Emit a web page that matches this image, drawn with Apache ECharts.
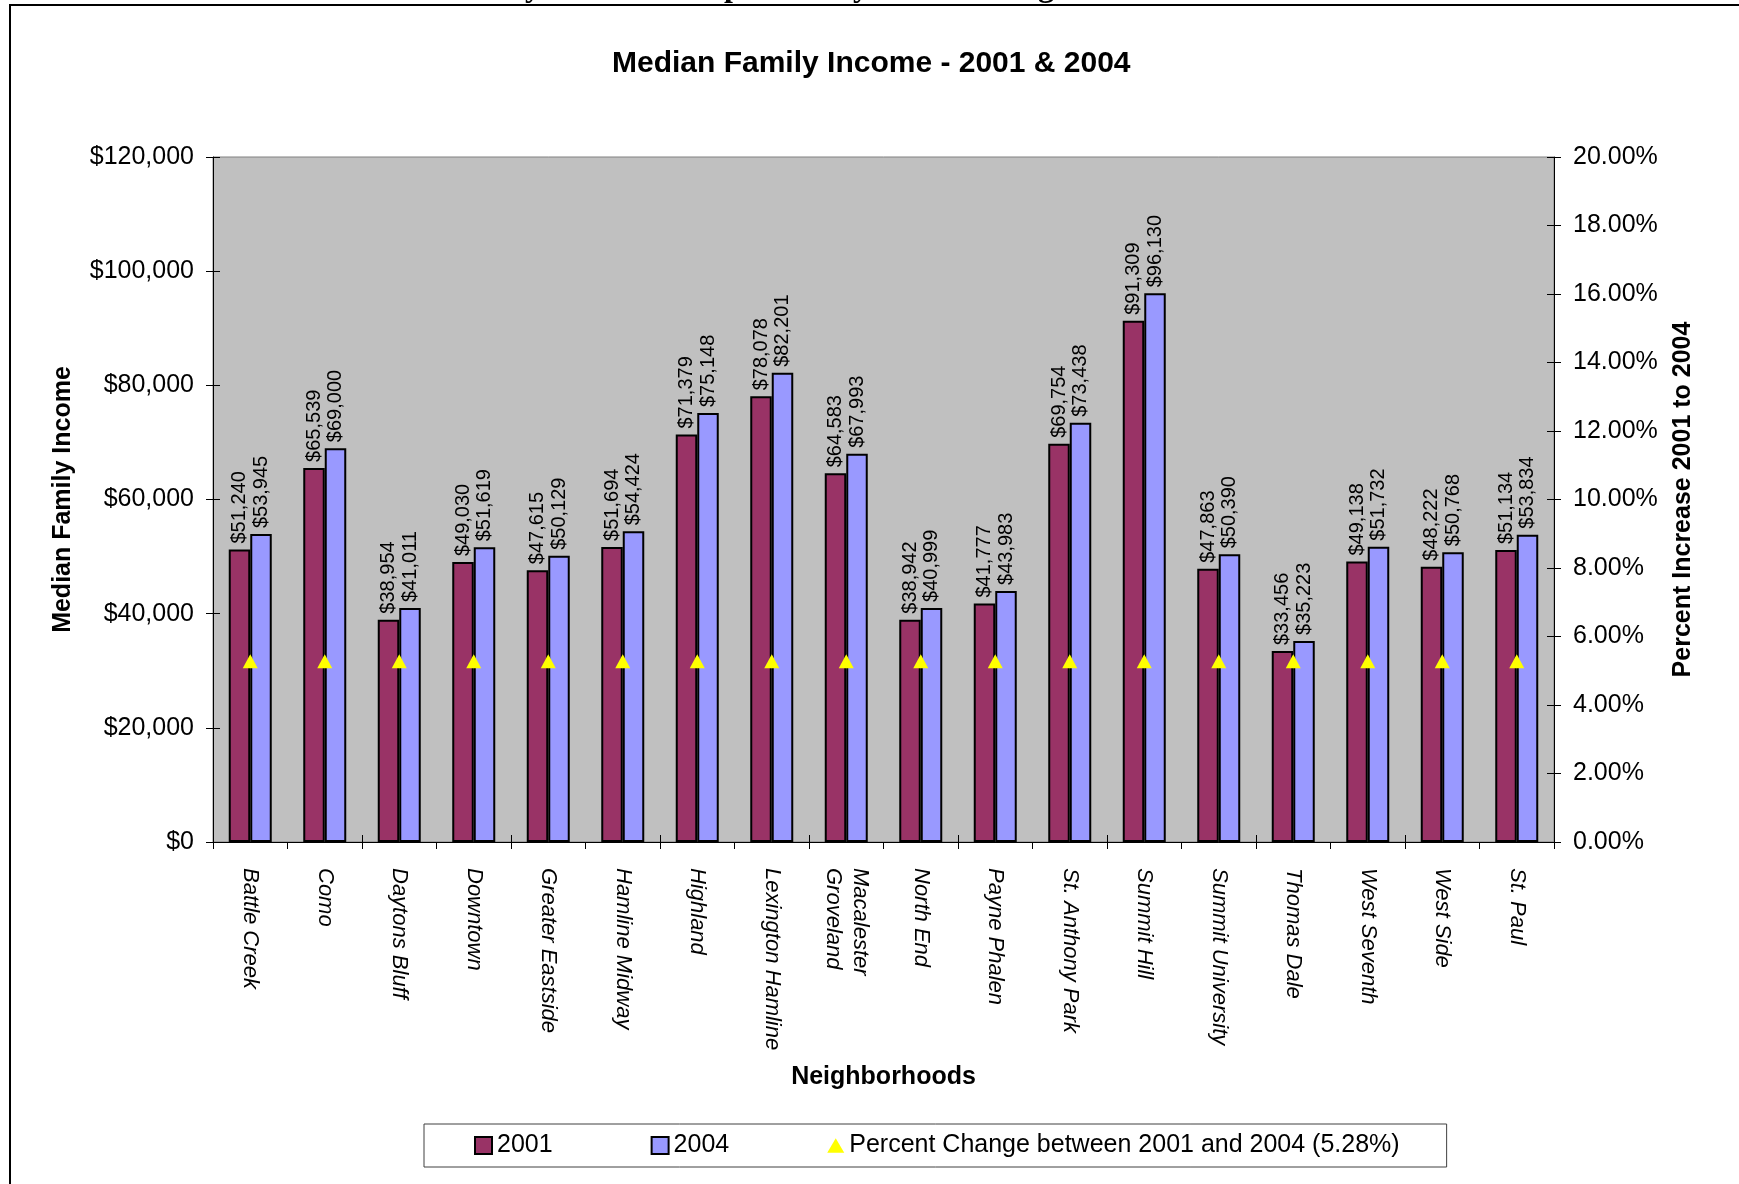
<!DOCTYPE html>
<html>
<head>
<meta charset="utf-8">
<script src="https://cdn.jsdelivr.net/npm/echarts@6/dist/echarts.min.js"></script>
<style>
  html, body { margin: 0; padding: 0; background: #fff; }
  #chart { width: 1739px; height: 1184px; }
</style>
</head>
<body>
<div id="chart"></div>
<script>
const categories = ['Battle Creek', 'Como', 'Daytons Bluff', 'Downtown', 'Greater Eastside', 'Hamline Midway',
  'Highland', 'Lexington Hamline', 'Macalester\nGroveland', 'North End', 'Payne Phalen', 'St. Anthony Park',
  'Summit Hill', 'Summit University', 'Thomas Dale', 'West Seventh', 'West Side', 'St. Paul'];
const income2001 = [51240, 65539, 38954, 49030, 47615, 51694, 71379, 78078, 64583, 38942, 41777, 69754, 91309, 47863, 33456, 49138, 48222, 51134];
const income2004 = [53945, 69000, 41011, 51619, 50129, 54424, 75148, 82201, 67993, 40999, 43983, 73438, 96130, 50390, 35223, 51732, 50768, 53834];
const pctChange = [5.28, 5.28, 5.28, 5.28, 5.28, 5.28, 5.28, 5.28, 5.28, 5.28, 5.28, 5.28, 5.28, 5.28, 5.28, 5.28, 5.28, 5.28];
const incomeTicks = { min: 0, max: 120000, interval: 20000 };
const pctTicks = { min: 0, max: 20, interval: 2 };
const titleText = 'Median Family Income - 2001 & 2004';
const seriesNames = ['2001', '2004', 'Percent Change between 2001 and 2004 (5.28%)'];

const FONT = '"Liberation Sans", Arial, sans-serif';
const money = v => '$' + Number(v).toLocaleString('en-US');

const chart = echarts.init(document.getElementById('chart'), null, { renderer: 'canvas' });
chart.setOption({
  animation: false,
  backgroundColor: '#ffffff',
  textStyle: { fontFamily: FONT, color: '#000' },
  graphic: [
    { type: 'rect', silent: true, z: 0,
      shape: { x: 10, y: 5, width: 2000, height: 2000 },
      style: { fill: 'none', stroke: '#000', lineWidth: 2 } },
    { type: 'text', silent: true, x: 445, y: -12.5,
      style: { text: 'Family Income Comparison by St. Paul Neighborhood',
        font: 'bold 32px "Liberation Serif", "Times New Roman", serif', fill: '#000',
        align: 'left', verticalAlign: 'middle' } }
  ],
  title: {
    text: titleText, left: 612, top: 49, padding: 0,
    textStyle: { fontSize: 30, fontWeight: 'bold', fontFamily: FONT, color: '#000' }
  },
  legend: {
    left: 424, top: 1124, orient: 'horizontal',
    itemWidth: 17, itemHeight: 17, itemGap: 98,
    padding: [9, 47, 9, 50],
    backgroundColor: '#fff', borderColor: '#404040', borderWidth: 1,
    textStyle: { fontSize: 25, color: '#000', fontFamily: FONT },
    data: [
      { name: seriesNames[0], icon: 'rect' },
      { name: seriesNames[1], icon: 'rect' },
      { name: seriesNames[2], icon: 'path://M7.5,0L15,13L0,13Z', itemStyle: { color: '#FFFF00', borderWidth: 0 } }
    ]
  },
  grid: {
    left: 213, right: 185, top: 157, bottom: 342,
    show: true, backgroundColor: '#C0C0C0', borderColor: '#808080', borderWidth: 1
  },
  xAxis: [
    {
      type: 'category', data: categories, position: 'bottom',
      axisLine: { show: true, lineStyle: { color: '#000', width: 1 } },
      axisTick: { show: true, length: 7, lineStyle: { color: '#000' } },
      axisLabel: { interval: 0, rotate: -90, margin: 26, fontSize: 22, fontStyle: 'italic',
        color: '#000', fontFamily: FONT, lineHeight: 27 },
      splitLine: { show: false },
      name: 'Neighborhoods', nameLocation: 'middle', nameGap: 223,
      nameTextStyle: { fontSize: 25, fontWeight: 'bold', color: '#000', fontFamily: FONT }
    },
    {
      type: 'category', data: categories, position: 'bottom',
      axisLine: { show: false },
      axisTick: { show: true, inside: true, length: 7, lineStyle: { color: '#000' } },
      axisLabel: { show: false }, splitLine: { show: false }
    }
  ],
  yAxis: [
    {
      type: 'value', position: 'left', min: incomeTicks.min, max: incomeTicks.max, interval: incomeTicks.interval,
      axisLine: { show: true, lineStyle: { color: '#000', width: 1 } },
      axisTick: { show: true, length: 7, lineStyle: { color: '#000' } },
      axisLabel: { formatter: money, fontSize: 25, margin: 19, color: '#000', fontFamily: FONT },
      splitLine: { show: false },
      name: 'Median Family Income', nameLocation: 'middle', nameGap: 137, nameRotate: 90,
      nameTextStyle: { fontSize: 25, fontWeight: 'bold', color: '#000', fontFamily: FONT }
    },
    {
      type: 'value', position: 'right', min: pctTicks.min, max: pctTicks.max, interval: pctTicks.interval,
      axisLine: { show: true, lineStyle: { color: '#000', width: 1 } },
      axisTick: { show: true, length: 7, lineStyle: { color: '#000' } },
      axisLabel: { formatter: v => v.toFixed(2) + '%', fontSize: 25, margin: 19, color: '#000', fontFamily: FONT },
      splitLine: { show: false },
      name: 'Percent Increase 2001 to 2004', nameLocation: 'middle', nameGap: 117, nameRotate: 90,
      nameTextStyle: { fontSize: 25, fontWeight: 'bold', color: '#000', fontFamily: FONT }
    },
    {
      type: 'value', position: 'left', min: incomeTicks.min, max: incomeTicks.max, interval: incomeTicks.interval,
      axisLine: { show: false }, axisLabel: { show: false }, splitLine: { show: false },
      axisTick: { show: true, inside: true, length: 7, lineStyle: { color: '#000' } }
    },
    {
      type: 'value', position: 'right', min: pctTicks.min, max: pctTicks.max, interval: pctTicks.interval,
      axisLine: { show: false }, axisLabel: { show: false }, splitLine: { show: false },
      axisTick: { show: true, inside: true, length: 7, lineStyle: { color: '#000' } }
    }
  ],
  series: [
    {
      type: 'bar', name: seriesNames[0], data: income2001, barWidth: 21.5, barGap: '0%',
      itemStyle: { color: '#993366', borderColor: '#000', borderWidth: 2 },
      label: { show: true, position: 'top', rotate: 90, align: 'left', verticalAlign: 'middle',
        distance: 6, fontSize: 20, color: '#000', fontFamily: FONT, formatter: p => money(p.value) }
    },
    {
      type: 'bar', name: seriesNames[1], data: income2004, barWidth: 21.5, barGap: '0%',
      itemStyle: { color: '#9999FF', borderColor: '#000', borderWidth: 2 },
      label: { show: true, position: 'top', rotate: 90, align: 'left', verticalAlign: 'middle',
        distance: 6, fontSize: 20, color: '#000', fontFamily: FONT, formatter: p => money(p.value) }
    },
    {
      type: 'line', name: seriesNames[2], yAxisIndex: 1, data: pctChange, z: 5,
      symbol: 'triangle', symbolSize: [15, 14], showSymbol: true,
      itemStyle: { color: '#FFFF00', borderWidth: 0 },
      lineStyle: { opacity: 0, width: 0 }
    }
  ]
});
</script>
</body>
</html>
